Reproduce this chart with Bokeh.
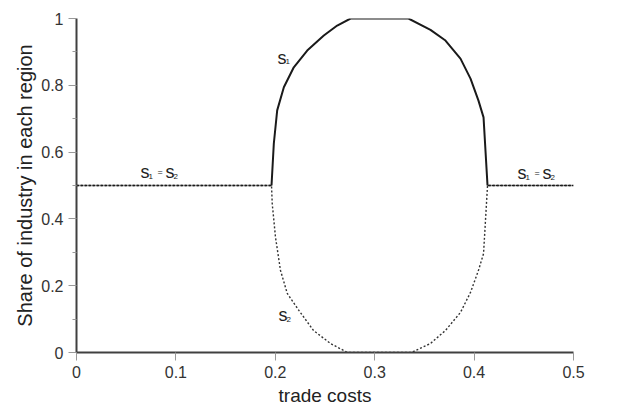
from bokeh.plotting import figure
from bokeh.models import Range1d, FixedTicker
from bokeh.core.properties import value
from bokeh.embed import file_html
from bokeh.resources import INLINE

# s1 (share of region 1) against trade costs
tau1 = [0.0, 0.1962, 0.1985, 0.2019, 0.2086, 0.2186, 0.2321, 0.2488, 0.2623, 0.2757,
        0.334, 0.3561, 0.3712, 0.3863, 0.3964, 0.4044, 0.4095, 0.4135, 0.5]
s1 = [0.5, 0.5, 0.625, 0.725, 0.794, 0.854, 0.904, 0.949, 0.979, 1.0,
      1.0, 0.966, 0.934, 0.880, 0.820, 0.754, 0.704, 0.5, 0.5]

# s2 (share of region 2) against trade costs
tau2 = [0.0, 0.1962, 0.1969, 0.2002, 0.2052, 0.2120, 0.2237, 0.2384, 0.2555, 0.2726,
        0.337, 0.3561, 0.3712, 0.3863, 0.3964, 0.4044, 0.4095, 0.4135, 0.5]
s2 = [0.5, 0.5, 0.446, 0.345, 0.246, 0.177, 0.126, 0.066, 0.027, 0.0,
      0.0, 0.027, 0.066, 0.120, 0.180, 0.246, 0.296, 0.5, 0.5]

x_ticks = [0.0, 0.1, 0.2, 0.3, 0.4, 0.5]
x_tick_labels = ["0", "0.1", "0.2", "0.3", "0.4", "0.5"]
y_ticks = [0.0, 0.2, 0.4, 0.6, 0.8, 1.0]
y_tick_labels = ["0", "0.2", "0.4", "0.6", "0.8", "1"]
y_minor_ticks = [0.1, 0.3, 0.5, 0.7, 0.9]

x_title = "trade costs"
y_title = "Share of industry in each region"

# curve labels: (anchor x, anchor y, pieces of text: (text, dx px, dy px, size px))
labels = [
    (0.2022, 0.883, [("s", 0, 0, 18), ("1", 8, 4, 8)]),
    (0.2032, 0.111, [("s", 0, 0, 18), ("2", 8, 4, 8)]),
    (0.0644, 0.539, [("s", 0, 0, 18), ("1", 8, 4, 8), ("=", 17, 0, 9), ("s", 25, 0, 18), ("2", 33, 4, 8)]),
    (0.4437, 0.536, [("s", 0, 0, 18), ("1", 8, 4, 8), ("=", 17, 0, 9), ("s", 25, 0, 18), ("2", 33, 4, 8)]),
]

FONT = "Liberation Sans"

p = figure(width=616, height=404, output_backend="svg", toolbar_location=None,
           x_range=Range1d(0, 0.5), y_range=Range1d(0, 1))
p.frame_width = 497
p.frame_height = 334
p.min_border_left = 76
p.min_border_right = 43
p.min_border_top = 18
p.min_border_bottom = 52
p.outline_line_color = None
p.xgrid.visible = False
p.ygrid.visible = False
p.background_fill_color = "white"
p.border_fill_color = "white"

# split s1 into the symmetric (s1 = s2) flats and the asymmetric section
i0 = max(i for i in range(len(tau1)) if s1[i] == 0.5 and tau1[i] < 0.3)
i1 = min(i for i in range(len(tau1)) if s1[i] == 0.5 and tau1[i] > 0.3)

p.line(tau2, s2, line_color="#333333", line_width=1.4, line_dash="2 2")
p.line(tau1[i0:i1 + 1], s1[i0:i1 + 1], line_color="#1a1a1a", line_width=2)
p.line(tau1[:i0 + 1], s1[:i0 + 1], line_color="#1a1a1a", line_width=1.6, line_dash="3 1")
p.line(tau1[i1:], s1[i1:], line_color="#1a1a1a", line_width=1.6, line_dash="3 1")

for lx, ly, pieces in labels:
    for txt, dx, dy, fs in pieces:
        p.text(x=[lx], y=[ly], text=[txt], x_offset=dx, y_offset=dy,
               text_font=value(FONT), text_font_size=f"{fs}px",
               text_color="#222222", text_baseline="middle", text_align="left")

p.xaxis.ticker = FixedTicker(ticks=x_ticks)
p.xaxis.major_label_overrides = {t: l for t, l in zip(x_ticks, x_tick_labels)}
p.yaxis.ticker = FixedTicker(ticks=y_ticks, minor_ticks=y_minor_ticks)
p.yaxis.major_label_overrides = {t: l for t, l in zip(y_ticks, y_tick_labels)}

for ax in (p.xaxis[0], p.yaxis[0]):
    ax.axis_line_color = "#404040"
    ax.axis_line_width = 2
    ax.major_tick_line_color = "#999999"
    ax.major_tick_out = 8
    ax.major_tick_in = 0
    ax.major_label_text_font = FONT
    ax.major_label_text_font_size = "16px"
    ax.major_label_text_color = "#333333"
    ax.axis_label_text_font = FONT
    ax.axis_label_text_font_size = "19px"
    ax.axis_label_text_font_style = "normal"
    ax.axis_label_text_color = "#222222"

p.yaxis.axis_label_text_font_size = "20px"
p.xaxis.minor_tick_line_color = None
p.yaxis.minor_tick_line_color = "#999999"
p.yaxis.minor_tick_out = 4
p.yaxis.minor_tick_in = 0
p.xaxis.axis_label = x_title
p.yaxis.axis_label = y_title
p.xaxis.major_label_standoff = 5
p.yaxis.major_label_standoff = 5
p.xaxis.axis_label_standoff = 4
p.yaxis.axis_label_standoff = 2

open("out.html", "w").write(file_html(p, INLINE))
